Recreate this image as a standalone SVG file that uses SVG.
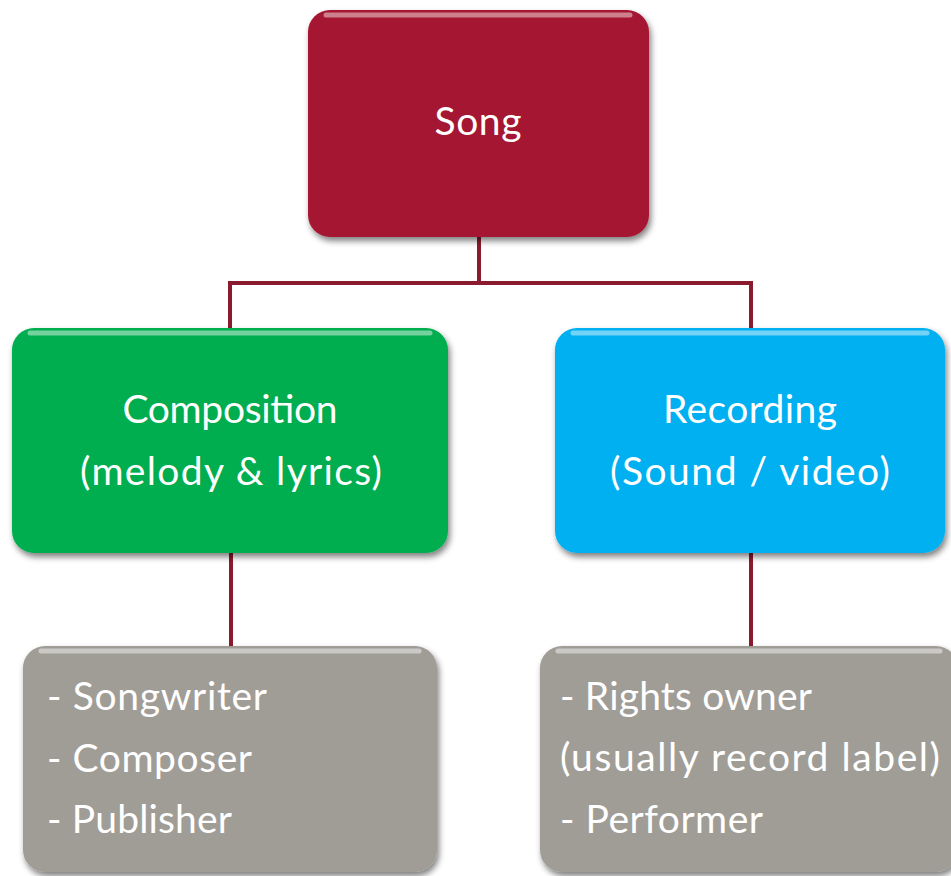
<svg xmlns="http://www.w3.org/2000/svg" width="951" height="876" viewBox="0 0 951 876">
<style>
.lbl{font-family:Lato,"Open Sans","Liberation Sans",sans-serif;fill:#ffffff;font-size:39px}
.c{text-anchor:middle}
.conn{stroke:#8B1A2E;stroke-width:4;fill:none;stroke-linecap:square}
.hl{fill:none;stroke:#ffffff;stroke-opacity:0.45;stroke-width:5;stroke-linecap:round}
</style>
<defs>
<filter id="sh" x="-10%" y="-10%" width="125%" height="130%">
<feGaussianBlur in="SourceAlpha" stdDeviation="3"/>
<feOffset dx="2" dy="4" result="b"/>
<feComponentTransfer><feFuncA type="linear" slope="0.5"/></feComponentTransfer>
<feMerge><feMergeNode/><feMergeNode in="SourceGraphic"/></feMerge>
</filter>
</defs>
<g id="connectors">
<path class="conn" d="M479 237 V283 M230 283 H751 M230 283 V328 M751 283 V328"/>
<path class="conn" d="M231 553 V646 M751 553 V646"/>
</g>
<g id="song">
<rect x="308" y="10" width="341" height="227" rx="22" fill="#A51931" filter="url(#sh)"/>
<path class="hl" d="M326 15 H630"/>
<text class="lbl c" x="478" y="135" textLength="87" lengthAdjust="spacing">Song</text>
</g>
<g id="composition">
<rect x="12" y="328" width="436" height="225" rx="22" fill="#00AD50" filter="url(#sh)"/>
<path class="hl" d="M30 333 H430"/>
<text class="lbl c" x="230" y="423" textLength="215" lengthAdjust="spacing">Composition</text>
<text class="lbl c" x="231" y="485" textLength="302" lengthAdjust="spacing">(melody &amp; lyrics)</text>
</g>
<g id="recording">
<rect x="555" y="328" width="390" height="225" rx="22" fill="#00B0F0" filter="url(#sh)"/>
<path class="hl" d="M573 333 H927"/>
<text class="lbl c" x="750" y="423" textLength="174" lengthAdjust="spacing">Recording</text>
<text class="lbl c" x="750" y="485" textLength="280" lengthAdjust="spacing">(Sound / video)</text>
</g>
<g id="composition-roles">
<rect x="23" y="646" width="414" height="226" rx="22" fill="#A09D97" filter="url(#sh)"/>
<path class="hl" d="M41 651 H419"/>
<text class="lbl" x="47" y="710" textLength="220" lengthAdjust="spacing">- Songwriter</text>
<text class="lbl" x="47" y="772" textLength="205" lengthAdjust="spacing">- Composer</text>
<text class="lbl" x="47" y="833" textLength="185" lengthAdjust="spacing">- Publisher</text>
</g>
<g id="recording-roles">
<rect x="540" y="646" width="418" height="226" rx="22" fill="#A09D97" filter="url(#sh)"/>
<path class="hl" d="M558 651 H940"/>
<text class="lbl" x="560" y="710" textLength="252" lengthAdjust="spacing">- Rights owner</text>
<text class="lbl" x="560" y="771" textLength="380" lengthAdjust="spacing">(usually record label)</text>
<text class="lbl" x="560" y="833" textLength="203" lengthAdjust="spacing">- Performer</text>
</g>
</svg>
